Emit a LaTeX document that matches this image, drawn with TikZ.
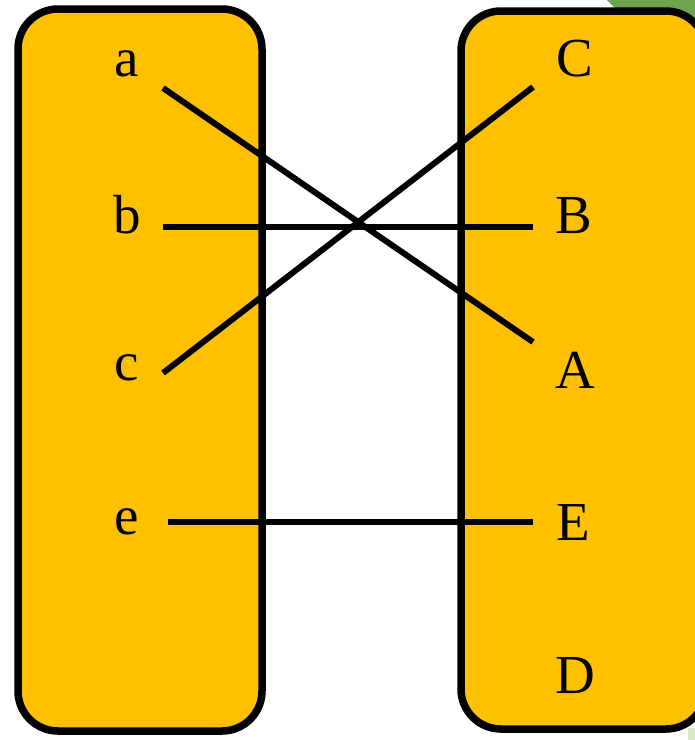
\documentclass[tikz,border=0pt]{standalone}
\usepackage{fontspec}
\setmainfont{Liberation Serif}
\definecolor{boxfill}{RGB}{255,192,0}
\definecolor{leafgreen}{RGB}{112,163,77}
\definecolor{palegreen}{RGB}{214,232,196}
\tikzset{
  setbox/.style={draw=black, line width=7.5pt, fill=boxfill, rounded corners=40pt},
  elem/.style={font=\fontsize{55}{60}\selectfont, inner sep=0pt},
  pair/.style={line width=6pt},
}
\begin{document}
\begin{tikzpicture}[x=1pt, y=-1pt]
  \useasboundingbox (0,0) rectangle (695,740);
  \begin{scope}
    \clip (0,0) rectangle (695,740);
    \fill[leafgreen] (607,0) -- (695,0) -- (695,90) -- cycle;
    \fill[palegreen] (688,728) rectangle (695,740);

    \draw[setbox] (18,9) rectangle (262,731);
    \draw[setbox] (461,11) rectangle (706,729);
  \end{scope}

  \node[elem] (a) at (127,64) {a};
  \node[elem] (b) at (127,215) {b};
  \node[elem] (c) at (127,368) {c};
  \node[elem] (e) at (127,522) {e};

  \node[elem] (C) at (575,59) {C};
  \node[elem] (B) at (574,216) {B};
  \node[elem] (A) at (575,370) {A};
  \node[elem] (E) at (573,522) {E};
  \node[elem] (D) at (575,676) {D};

  \coordinate (a-out) at (163,88);
  \coordinate (b-out) at (163,227);
  \coordinate (c-out) at (163,373);
  \coordinate (e-out) at (168,522);
  \coordinate (C-in) at (533,87);
  \coordinate (B-in) at (533,227);
  \coordinate (A-in) at (533,342);
  \coordinate (E-in) at (533,522);

  \draw[pair] (a-out) -- (A-in);
  \draw[pair] (b-out) -- (B-in);
  \draw[pair] (c-out) -- (C-in);
  \draw[pair] (e-out) -- (E-in);
\end{tikzpicture}
\end{document}
